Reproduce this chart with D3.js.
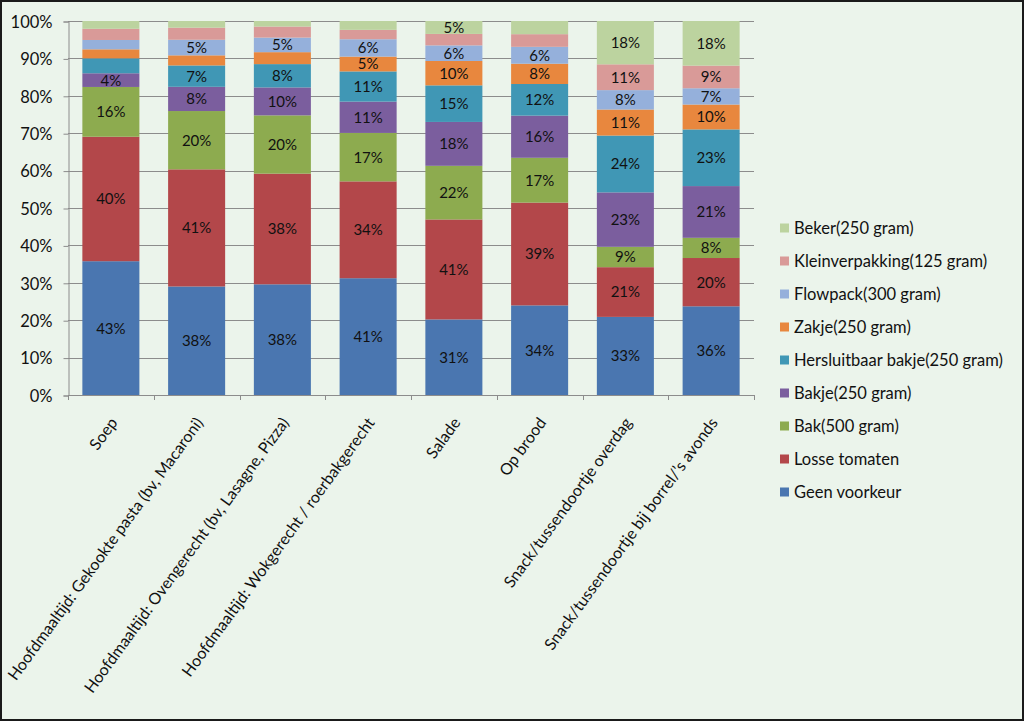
<!DOCTYPE html>
<html>
<head>
<meta charset="utf-8">
<script src="https://cdn.jsdelivr.net/npm/d3@7"></script>
<style>
  html, body { margin: 0; padding: 0; background: #ffffff; }
  svg { display: block; }
  text { font-family: Lato, "Noto Sans", sans-serif; fill: #111; }
</style>
</head>
<body>
<svg id="chart" width="1024" height="721"></svg>
<script>
// ---- data ----
const categories = [
  "Soep",
  "Hoofdmaaltijd: Gekookte pasta (bv, Macaroni)",
  "Hoofdmaaltijd: Ovengerecht (bv, Lasagne, Pizza)",
  "Hoofdmaaltijd: Wokgerecht / roerbakgerecht",
  "Salade",
  "Op brood",
  "Snack/tussendoortje overdag",
  "Snack/tussendoortje bij borrel/\u2019s avonds"
];
const seriesNames = [
  "Geen voorkeur", "Losse tomaten", "Bak(500 gram)", "Bakje(250 gram)",
  "Hersluitbaar bakje(250 gram)", "Zakje(250 gram)", "Flowpack(300 gram)",
  "Kleinverpakking(125 gram)", "Beker(250 gram)"
];
const geenVoorkeur   = [43, 37.6, 38, 41, 31, 34, 33, 36];
const losseTomaten   = [40, 40.6, 38, 34, 41, 39, 21, 19.6];
const bak500         = [16, 20.2, 20, 17, 22, 17, 8.6, 8.2];
const bakje250       = [4.4, 8.4, 9.6, 11, 18, 16, 23, 21];
const hersluitbaar   = [4.8, 7.4, 8, 10.6, 15, 12, 24, 23];
const zakje          = [2.9, 3.5, 4.1, 5.2, 10, 7.7, 11, 10.1];
const flowpack       = [3.0, 5.4, 5, 6.1, 6.4, 6.4, 8.2, 6.6];
const kleinverpakking= [3.6, 4.2, 3.8, 3.3, 4.7, 4.8, 10.9, 9.2];
const beker          = [2.5, 2.3, 1.9, 3.1, 5.3, 5.0, 18.3, 18.1];
// which series carry a data label, per category (series index, bottom = 0)
const labelledSeries = [
  [0,1,2,3],
  [0,1,2,3,4,6],
  [0,1,2,3,4,6],
  [0,1,2,3,4,5,6],
  [0,1,2,3,4,5,6,8],
  [0,1,2,3,4,5,6],
  [0,1,2,3,4,5,6,7,8],
  [0,1,2,3,4,5,6,7,8]
];
const yTicks = [0, 0.1, 0.2, 0.3, 0.4, 0.5, 0.6, 0.7, 0.8, 0.9, 1.0];
const colors = ["#4A76B0", "#B3474A", "#8DAB4F", "#7B5E9E", "#4097B5",
                "#E8873E", "#95B0DB", "#D99A98", "#BCD39F"];

const seriesValues = [geenVoorkeur, losseTomaten, bak500, bakje250, hersluitbaar,
                      zakje, flowpack, kleinverpakking, beker];
const rows = categories.map((c, i) => {
  const r = { cat: c, idx: i };
  seriesNames.forEach((s, j) => r[s] = seriesValues[j][i]);
  return r;
});

// ---- layout ----
const FS = "16px";
const svg = d3.select("#chart");
const W = 1024, H = 721;
svg.append("rect").attr("x", 1).attr("y", 1).attr("width", W - 2).attr("height", H - 2)
  .attr("fill", "#EBF4EB").attr("stroke", "#1a1a1a").attr("stroke-width", 2);

const x = d3.scaleBand().domain(categories).range([68, 754])
  .paddingInner(0.335).paddingOuter(0.1675);
const y = d3.scaleLinear().domain([0, 1]).range([395, 21]);

const stack = d3.stack().keys(seriesNames).offset(d3.stackOffsetExpand);
const stacked = stack(rows);

// gridlines
svg.append("g").selectAll("line").data(yTicks.filter(t => t > 0)).join("line")
  .attr("x1", 68).attr("x2", 754)
  .attr("y1", d => Math.round(y(d)) + 0.5).attr("y2", d => Math.round(y(d)) + 0.5)
  .attr("stroke", "#8C8C8C").attr("stroke-width", 1);

// y axis
const yAxis = d3.axisLeft(y).tickValues(yTicks).tickFormat(d3.format(".0%")).tickSize(5).tickPadding(11);
const gy = svg.append("g").attr("transform", "translate(68.5,0.5)").call(yAxis);
gy.select(".domain").attr("stroke", "#8C8C8C");
gy.selectAll(".tick line").attr("stroke", "#8C8C8C");
gy.selectAll("text").style("font-size", "16.5px").attr("fill", "#111").attr("dy", "0.35em");

// bars
const gBars = svg.append("g");
stacked.forEach((layer, j) => {
  gBars.append("g").attr("fill", colors[j]).selectAll("rect").data(layer).join("rect")
    .attr("x", d => x(d.data.cat))
    .attr("width", x.bandwidth())
    .attr("y", d => y(d[1]))
    .attr("height", d => y(d[0]) - y(d[1]));
});

// data labels
const gLab = svg.append("g");
stacked.forEach((layer, j) => {
  gLab.selectAll(null).data(layer.filter(d => labelledSeries[d.data.idx].includes(j))).join("text")
    .attr("x", d => x(d.data.cat) + x.bandwidth() / 2)
    .attr("y", d => (y(d[0]) + y(d[1])) / 2)
    .attr("text-anchor", "middle").attr("dy", "0.36em")
    .style("font-size", "15px")
    .text(d => Math.round(d.data[seriesNames[j]]) + "%");
});

// x axis
const xAxisLine = svg.append("g");
xAxisLine.append("line").attr("x1", 68).attr("x2", 754).attr("y1", 395.5).attr("y2", 395.5)
  .attr("stroke", "#8C8C8C");
const bounds = categories.map(c => x(c) - x.step() * x.paddingInner() / 2).concat([754]);
xAxisLine.selectAll("line.t").data(bounds).join("line").attr("class", "t")
  .attr("x1", d => Math.round(d) + 0.5).attr("x2", d => Math.round(d) + 0.5)
  .attr("y1", 395).attr("y2", 400).attr("stroke", "#8C8C8C");

svg.append("g").selectAll("text").data(categories).join("text")
  .attr("transform", d => `translate(${x(d) + x.bandwidth() / 2 - 2},${416}) rotate(-54)`)
  .attr("text-anchor", "end").attr("dy", "0.72em")
  .style("font-size", FS)
  .text(d => d);

// legend
const legendOrder = seriesNames.map((s, j) => j).reverse();
const gLeg = svg.append("g");
legendOrder.forEach((j, k) => {
  const cy = 228 + k * 33;
  gLeg.append("rect").attr("x", 780).attr("y", cy - 4.5).attr("width", 9).attr("height", 9)
    .attr("fill", colors[j]);
  gLeg.append("text").attr("x", 794).attr("y", cy).attr("dy", "0.36em")
    .style("font-size", "16.5px").text(seriesNames[j]);
});
</script>
</body>
</html>
